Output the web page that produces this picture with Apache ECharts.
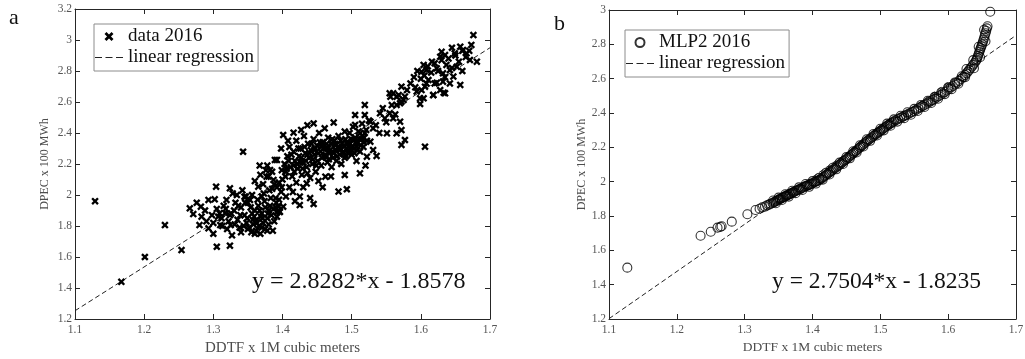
<!DOCTYPE html>
<html><head><meta charset="utf-8">
<script src="https://cdn.jsdelivr.net/npm/echarts@6/dist/echarts.min.js"></script>
<style>html,body{margin:0;padding:0;background:#fff}#c{width:1025px;height:359px}</style>
</head><body><div id="c"></div>
<script>
// ---- data ----
const xTicksMin = 1.1, xTicksMax = 1.7, xTickStep = 0.1;
const yRangeA = [1.2, 3.2];
const yRangeB = [1.2, 3.0];
const yTickStep = 0.2;
const seriesNameA = 'data 2016';
const seriesNameB = 'MLP2 2016';
const regName = 'linear regression';
const xName = 'DDTF x 1M cubic meters';
const yName = 'DPEC x 100 MWh';
const eqA = 'y = 2.8282*x - 1.8578';
const eqB = 'y = 2.7504*x - 1.8235';
const regA = [[1.1, 1.2532], [1.7, 2.9501]];
const regB = [[1.1, 1.2019], [1.7, 2.8522]];

const dataA = [
[1.129,1.96],[1.167,1.44],[1.201,1.60],[1.230,1.806],[1.254,1.645],[1.305,1.666],[1.324,1.673],
[1.266,1.914],[1.271,1.877],[1.282,1.925],[1.283,1.86],[1.280,1.806],[1.293,1.785],[1.293,1.968],[1.304,2.054],[1.302,1.972],[1.309,1.882],[1.310,1.806],[1.317,1.884],[1.319,1.968],[1.324,2.043],[1.325,1.806],[1.328,2.01],[1.324,1.87],[1.343,2.279],[1.345,1.989],[1.353,1.968],[1.356,1.88],[1.357,1.839],[1.365,2.054],[1.367,2.19],[1.369,1.86],[1.37,1.99],[1.377,2.118],[1.378,2.19],[1.38,1.9],[1.385,2.04],[1.389,2.226],[1.39,1.92],
[1.340,1.92],[1.345,1.87],[1.348,1.82],[1.350,1.95],[1.352,1.79],[1.355,1.76],[1.358,1.81],[1.360,1.90],[1.362,1.77],[1.362,1.84],[1.365,1.93],[1.366,1.80],[1.368,1.75],[1.370,1.88],[1.372,1.82],[1.374,1.96],[1.375,1.78],[1.378,1.85],[1.380,1.81],[1.382,1.93],[1.384,1.87],[1.386,1.77],[1.388,1.83],[1.390,1.98],[1.392,1.89],[1.394,1.93],[1.396,1.89],[1.398,2.02],[1.335,1.84],[1.338,1.79],[1.332,1.95],[1.330,1.90],[1.315,1.93],[1.312,1.85],[1.305,1.91],[1.298,1.87],[1.290,1.83],[1.288,1.90],[1.276,1.95],[1.300,1.75],[1.320,1.78],[1.327,1.74],[1.334,2.00],[1.342,2.03],[1.347,1.99],[1.360,2.09],[1.372,2.07],[1.380,2.12],[1.385,2.15],[1.392,2.05],[1.376,2.16],[1.368,2.13],
[1.300,1.82],[1.307,1.86],[1.313,1.80],[1.318,1.91],[1.322,1.83],[1.326,1.88],[1.331,1.81],[1.336,1.93],[1.339,1.87],[1.344,1.80],[1.349,1.85],[1.354,1.92],[1.359,1.86],[1.363,1.82],[1.367,1.90],[1.371,1.85],[1.375,1.92],[1.379,1.88],[1.383,1.98],[1.387,1.91],[1.391,1.95],[1.395,1.97],[1.399,2.05],[1.356,2.00],[1.346,1.95],[1.364,1.97],[1.373,2.01],[1.381,2.03],[1.388,2.07],[1.340,1.76],[1.350,1.78],[1.360,1.75],[1.370,1.79],[1.378,1.77],[1.392,1.86],
[1.396,1.893],[1.394,1.925],[1.401,1.925],[1.392,2.226],[1.387,2.097],[1.382,2.161],[1.445,1.942],[1.425,1.99],[1.425,1.935],[1.435,2.075],
[1.401,2.387],[1.416,2.402],[1.445,2.462],[1.474,2.467],[1.490,2.409],[1.462,2.118],[1.490,2.129],[1.512,2.14],[1.481,2.022],[1.493,2.037],
[1.400,2.10],[1.403,2.20],[1.405,2.15],[1.407,2.25],[1.410,2.05],[1.410,2.31],[1.412,2.18],[1.414,2.12],[1.416,2.28],[1.418,2.22],[1.420,2.08],[1.420,2.35],[1.422,2.17],[1.424,2.25],[1.426,2.30],[1.428,2.13],[1.430,2.21],[1.431,2.38],[1.433,2.27],[1.435,2.18],[1.437,2.33],[1.438,2.24],[1.440,2.11],[1.441,2.29],[1.443,2.20],[1.445,2.36],[1.446,2.26],[1.448,2.15],[1.450,2.32],[1.451,2.22],[1.453,2.40],[1.455,2.28],[1.456,2.19],[1.458,2.34],[1.460,2.25],[1.461,2.43],[1.463,2.30],[1.465,2.21],[1.466,2.37],[1.468,2.27],[1.470,2.33],[1.471,2.18],[1.473,2.24],[1.475,2.35],[1.476,2.29],[1.478,2.22],[1.480,2.31],[1.481,2.38],[1.483,2.26],[1.485,2.20],[1.486,2.33],[1.488,2.28],[1.490,2.24],[1.491,2.36],[1.493,2.30],[1.495,2.27],[1.497,2.40],[1.498,2.33],[1.500,2.26],[1.502,2.44],[1.503,2.30],[1.505,2.37],[1.507,2.22],[1.509,2.34],[1.510,2.41],[1.512,2.28],[1.514,2.36],[1.515,2.46],[1.517,2.31],[1.519,2.40],[1.520,2.19],[1.522,2.35],
[1.395,2.08],[1.399,2.16],[1.404,2.12],[1.409,2.22],[1.413,2.26],[1.417,2.15],[1.421,2.20],[1.423,2.30],[1.427,2.24],[1.429,2.17],[1.432,2.31],[1.434,2.22],[1.436,2.14],[1.439,2.27],[1.442,2.33],[1.444,2.23],[1.447,2.30],[1.449,2.19],[1.452,2.27],[1.454,2.34],[1.457,2.24],[1.459,2.30],[1.462,2.26],[1.464,2.33],[1.467,2.23],[1.469,2.29],[1.472,2.36],[1.474,2.27],[1.477,2.32],[1.479,2.25],[1.482,2.30],[1.484,2.35],[1.487,2.27],[1.489,2.31],[1.492,2.25],[1.494,2.33],[1.496,2.29],[1.499,2.36],[1.501,2.31],[1.504,2.27],[1.506,2.34],[1.508,2.29],[1.511,2.36],[1.513,2.32],[1.516,2.38],[1.518,2.34],[1.521,2.42],[1.456,2.31],[1.466,2.30],[1.476,2.33],[1.446,2.29],[1.436,2.26],[1.426,2.21],[1.416,2.19],[1.406,2.17],[1.463,2.25],[1.473,2.28],[1.483,2.29],[1.493,2.34],
[1.415,2.02],[1.430,2.05],[1.452,2.09],[1.458,2.05],[1.470,2.12],[1.440,1.98],[1.418,1.96],[1.405,1.99],[1.408,2.35],[1.398,2.30],[1.427,2.42],[1.436,2.45],
[1.505,2.516],[1.505,2.452],[1.519,2.516],[1.527,2.473],[1.541,2.527],[1.548,2.495],[1.555,2.527],[1.560,2.495],[1.570,2.473],
[1.572,2.419],[1.551,2.398],[1.565,2.398],[1.577,2.355],[1.572,2.323],[1.606,2.312],
[1.531,2.43],[1.527,2.344],[1.531,2.29],[1.522,2.247],[1.536,2.252],[1.512,2.398],[1.502,2.355],[1.498,2.301],[1.507,2.312],[1.517,2.366],
[1.525,2.48],[1.535,2.45],[1.540,2.40],[1.545,2.56],[1.550,2.47],[1.558,2.58],[1.563,2.52],[1.519,2.581],
[1.555,2.656],[1.568,2.645],[1.577,2.635],[1.572,2.602],[1.565,2.581],[1.594,2.667],[1.604,2.624],[1.618,2.645],[1.633,2.66],[1.599,2.587],
[1.572,2.699],[1.592,2.695],[1.608,2.72],[1.623,2.725],[1.642,2.72],[1.657,2.71],
[1.580,2.677],[1.601,2.677],[1.565,2.634],[1.575,2.613],[1.599,2.624],[1.570,2.592],[1.560,2.656],[1.556,2.634],
[1.611,2.742],[1.620,2.72],[1.606,2.699],[1.632,2.731],[1.628,2.677],[1.635,2.656],[1.618,2.645],
[1.616,2.86],[1.604,2.839],[1.608,2.806],[1.601,2.795],[1.623,2.817],[1.637,2.839],[1.642,2.806],[1.652,2.828],[1.632,2.785],[1.647,2.764],
[1.630,2.924],[1.635,2.903],[1.628,2.892],[1.681,2.86],[1.671,2.871],
[1.676,3.032],[1.673,2.968],[1.657,2.957],[1.661,2.935],[1.649,2.914],[1.666,2.914],
[1.585,2.72],[1.590,2.76],[1.595,2.80],[1.600,2.75],[1.605,2.77],[1.610,2.83],[1.615,2.79],[1.620,2.85],[1.625,2.80],[1.630,2.87],[1.635,2.76],[1.640,2.88],[1.645,2.82],[1.650,2.90],[1.655,2.86],[1.660,2.80],[1.665,2.89],[1.670,2.93],[1.645,2.95],[1.660,2.93]
];

const dataB = [
[1.127,1.499],[1.235,1.685],[1.250,1.708],[1.260,1.732],[1.264,1.736],[1.266,1.740],[1.281,1.767],[1.304,1.810],[1.316,1.835],[1.322,1.842],[1.326,1.850],[1.330,1.855],[1.333,1.862],[1.336,1.866],[1.338,1.871],[1.341,1.876],[1.343,1.880],[1.345,1.884],[1.347,1.888],[1.349,1.893],[1.351,1.897],[1.352,1.899],[1.354,1.903],[1.356,1.907],[1.357,1.909],[1.359,1.913],[1.361,1.917],[1.362,1.919],[1.364,1.923],[1.366,1.927],[1.367,1.929],[1.369,1.933],[1.371,1.937],[1.372,1.939],[1.374,1.943],[1.376,1.947],[1.378,1.951],[1.380,1.955],[1.382,1.958],[1.384,1.962],[1.386,1.966],[1.388,1.970],[1.390,1.974],[1.392,1.977],[1.394,1.980],[1.396,1.983],[1.398,1.987],[1.400,1.991],[1.402,1.995],[1.404,1.999],[1.406,2.003],[1.408,2.006],[1.410,2.010],[1.412,2.015],[1.414,2.021],[1.416,2.027],[1.418,2.033],[1.420,2.039],[1.422,2.045],[1.424,2.051],[1.426,2.057],[1.428,2.063],[1.430,2.069],[1.432,2.075],[1.434,2.081],[1.436,2.087],[1.438,2.093],[1.440,2.099],[1.442,2.106],[1.444,2.112],[1.446,2.119],[1.448,2.125],[1.450,2.131],[1.452,2.138],[1.454,2.145],[1.456,2.152],[1.458,2.158],[1.460,2.165],[1.462,2.172],[1.464,2.179],[1.466,2.186],[1.468,2.193],[1.470,2.200],[1.472,2.207],[1.474,2.214],[1.476,2.221],[1.478,2.228],[1.480,2.235],[1.482,2.241],[1.484,2.247],[1.486,2.253],[1.488,2.259],[1.490,2.266],[1.492,2.272],[1.494,2.278],[1.496,2.284],[1.498,2.290],[1.500,2.296],[1.502,2.302],[1.504,2.308],[1.506,2.314],[1.508,2.320],[1.510,2.326],[1.512,2.331],[1.514,2.336],[1.516,2.341],[1.518,2.346],[1.520,2.351],[1.523,2.358],[1.526,2.364],[1.529,2.370],[1.532,2.376],[1.535,2.382],[1.538,2.388],[1.541,2.394],[1.544,2.400],[1.547,2.406],[1.550,2.412],[1.553,2.419],[1.556,2.426],[1.559,2.433],[1.562,2.440],[1.565,2.447],[1.568,2.454],[1.571,2.461],[1.574,2.468],[1.577,2.475],[1.580,2.482],[1.583,2.490],[1.586,2.498],[1.589,2.506],[1.592,2.514],[1.595,2.522],[1.598,2.531],[1.601,2.540],[1.604,2.549],[1.607,2.557],[1.610,2.566],[1.613,2.576],[1.616,2.587],[1.619,2.598],[1.622,2.609],[1.625,2.621],[1.627,2.631],[1.629,2.641],[1.631,2.651],[1.633,2.661],[1.635,2.671],[1.637,2.682],[1.639,2.693],[1.641,2.704],[1.642,2.712],[1.643,2.722],[1.644,2.733],[1.645,2.745],[1.646,2.757],[1.647,2.768],[1.648,2.778],[1.649,2.789],[1.650,2.800],[1.651,2.812],[1.652,2.825],[1.653,2.838],[1.654,2.852],[1.655,2.865],[1.656,2.878],[1.657,2.893],[1.658,2.905],[1.662,2.990],
[1.342,1.890],[1.346,1.874],[1.350,1.907],[1.355,1.893],[1.360,1.927],[1.365,1.913],[1.370,1.947],[1.375,1.933],[1.380,1.967],[1.385,1.952],[1.390,1.986],[1.395,1.970],[1.400,2.003],[1.405,1.989],[1.410,2.022],[1.415,2.012],[1.420,2.051],[1.425,2.042],[1.430,2.081],[1.435,2.072],[1.440,2.111],[1.445,2.103],[1.450,2.143],[1.455,2.136],[1.460,2.177],[1.465,2.170],[1.470,2.212],[1.475,2.205],[1.480,2.247],[1.485,2.238],[1.490,2.278],[1.495,2.269],[1.500,2.308],[1.505,2.299],[1.510,2.338],[1.515,2.326],[1.520,2.363],[1.525,2.350],[1.530,2.384],[1.535,2.370],[1.540,2.404],[1.545,2.390],[1.550,2.424],[1.555,2.412],[1.560,2.447],[1.565,2.435],[1.570,2.471],[1.575,2.458],[1.580,2.494],[1.585,2.483],[1.590,2.521],[1.595,2.510],[1.600,2.549],[1.605,2.539],[1.610,2.578],[1.615,2.571],[1.620,2.614],[1.625,2.609],[1.627,2.656],[1.638,2.661],[1.637,2.708],[1.647,2.725],[1.645,2.786],[1.655,2.818],[1.653,2.885]
];

// ---- chart ----
const FONT = '"Liberation Serif", "Times New Roman", serif';
const AX = '#262626';
const crossPath = 'path://M0,2.2L2.2,0L5,2.8L7.8,0L10,2.2L7.2,5L10,7.8L7.8,10L5,7.2L2.2,10L0,7.8L2.8,5Z';
const dashIcon = 'path://M0,0h7v1h-7z M10.5,0h7v1h-7z M21,0h7v1h-7z';

function xAxis(gi, pos) {
  const bottom = pos === 'bottom';
  return {
    gridIndex: gi, type: 'value', position: pos, min: xTicksMin, max: xTicksMax, interval: xTickStep,
    name: bottom ? xName : '', nameLocation: 'middle', nameGap: 21,
    nameTextStyle: {fontFamily: FONT, fontSize: gi === 0 ? 15 : 13.5, color: '#4d4d4d'},
    axisLine: {show: true, onZero: false, lineStyle: {color: AX, width: 1}},
    axisTick: {show: true, inside: true, length: 5, lineStyle: {color: AX}},
    axisLabel: {show: bottom, color: '#555', fontFamily: FONT, fontSize: 11.5, margin: 5},
    splitLine: {show: false}
  };
}
function yAxis(gi, pos, rng) {
  const left = pos === 'left';
  return {
    gridIndex: gi, type: 'value', position: pos, min: rng[0], max: rng[1], interval: yTickStep,
    name: left ? yName : '', nameLocation: 'middle', nameGap: gi === 0 ? 24 : 19,
    nameTextStyle: {fontFamily: FONT, fontSize: 12, color: '#4d4d4d'},
    axisLine: {show: true, onZero: false, lineStyle: {color: AX, width: 1}},
    axisTick: {show: true, inside: true, length: 5, lineStyle: {color: AX}},
    axisLabel: {show: left, color: '#555', fontFamily: FONT, fontSize: 11.5, margin: 3},
    splitLine: {show: false}
  };
}

const legendBase = {
  orient: 'vertical', borderColor: '#8c8c8c', borderWidth: 1, backgroundColor: '#fff',
  padding: [3, 4, 4, 1], itemGap: 2, itemWidth: 28, itemHeight: 9, selectedMode: false,
  textStyle: {fontFamily: FONT, fontSize: 19, color: '#111'}
};
const regLegendItem = {name: regName, icon: dashIcon, itemStyle: {color: '#222', borderWidth: 0}};

const chart = echarts.init(document.getElementById('c'), null, {renderer: 'canvas'});
chart.setOption({
  animation: false,
  backgroundColor: '#fff',
  grid: [
    {left: 75, top: 9, width: 415, height: 310, outerBoundsMode: 'none'},
    {left: 609, top: 10, width: 407, height: 309, outerBoundsMode: 'none'}
  ],
  xAxis: [xAxis(0, 'bottom'), xAxis(0, 'top'), xAxis(1, 'bottom'), xAxis(1, 'top')],
  yAxis: [yAxis(0, 'left', yRangeA), yAxis(0, 'right', yRangeA), yAxis(1, 'left', yRangeB), yAxis(1, 'right', yRangeB)],
  legend: [
    Object.assign({}, legendBase, {left: 94, top: 24, data: [seriesNameA, regLegendItem]}),
    Object.assign({}, legendBase, {left: 625, top: 30, data: [seriesNameB, regLegendItem]})
  ],
  series: [
    {name: seriesNameA, type: 'scatter', xAxisIndex: 0, yAxisIndex: 0, data: dataA,
     symbol: crossPath, symbolSize: 7.5, itemStyle: {color: '#000', opacity: 1}},
    {name: regName, type: 'line', xAxisIndex: 0, yAxisIndex: 0, data: regA, symbol: 'none',
     itemStyle: {color: '#222'}, lineStyle: {color: '#222', width: 1, type: [5, 3]}, z: 1},
    {name: seriesNameB, type: 'scatter', xAxisIndex: 2, yAxisIndex: 2, data: dataB,
     symbol: 'circle', symbolSize: 9, itemStyle: {color: 'rgba(0,0,0,0)', borderColor: '#000', borderWidth: 1.1}},
    {name: regName, type: 'line', xAxisIndex: 2, yAxisIndex: 2, data: regB, symbol: 'none',
     itemStyle: {color: '#222'}, lineStyle: {color: '#222', width: 1, type: [5, 3]}, z: 1}
  ],
  graphic: [
    {type: 'text', left: 252, top: 270, style: {text: eqA, font: '24px ' + FONT, fill: '#111'}},
    {type: 'text', left: 772, top: 270, style: {text: eqB, font: '23.5px ' + FONT, fill: '#111'}},
    {type: 'text', left: 9, top: 7, style: {text: 'a', font: '22px ' + FONT, fill: '#111'}},
    {type: 'text', left: 554, top: 13, style: {text: 'b', font: '22px ' + FONT, fill: '#111'}}
  ]
});
</script>
</body></html>
